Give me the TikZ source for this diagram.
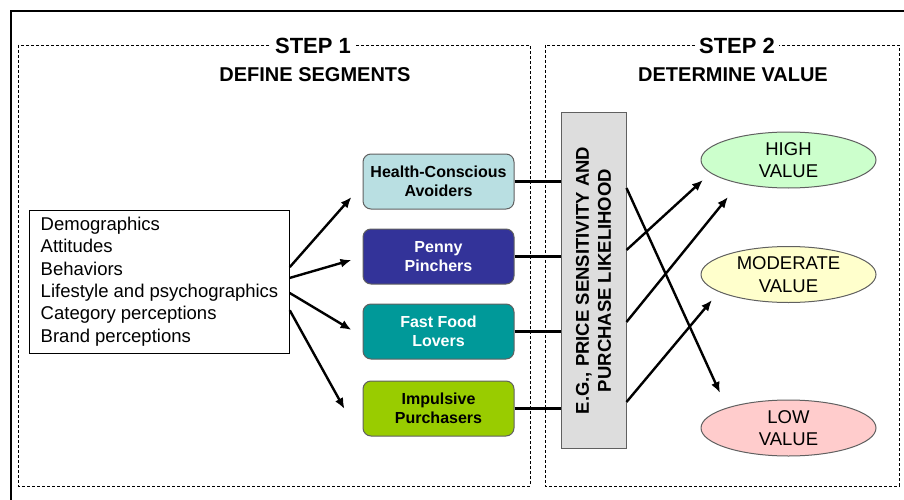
\documentclass[tikz,border=0pt]{standalone}
\usepackage{fontspec}
\setmainfont{Liberation Sans}
\usetikzlibrary{shapes.geometric,arrows.meta,calc}

\definecolor{hcafill}{HTML}{B9DFE2}
\definecolor{pennyfill}{HTML}{333399}
\definecolor{fflfill}{HTML}{009999}
\definecolor{impfill}{HTML}{99CC00}
\definecolor{highfill}{HTML}{CCFFCC}
\definecolor{modfill}{HTML}{FFFFCC}
\definecolor{lowfill}{HTML}{FFCCCC}
\definecolor{critfill}{HTML}{DDDDDD}
\definecolor{edgegray}{HTML}{606060}

\begin{document}
\begin{tikzpicture}[x=1pt, y=-1pt,
    every node/.style={font=\fontsize{18.5}{22.4}\selectfont},
    segbox/.style={draw=edgegray, line width=1pt, rounded corners=8pt, minimum width=151pt,
      minimum height=55pt, align=center, font=\bfseries\fontsize{16}{19.5}\selectfont},
    valoval/.style={ellipse, draw=edgegray, line width=1pt, minimum width=175pt,
      minimum height=56pt, inner sep=0pt, align=center},
    steptitle/.style={fill=white, inner sep=4pt, font=\bfseries\fontsize{22}{24}\selectfont},
    subtitle/.style={font=\bfseries\fontsize{20}{22}\selectfont},
    stepframe/.style={dash pattern=on 3pt off 2pt, line width=0.8pt},
    conn/.style={line width=2.4pt},
    arr/.style={line width=2.4pt, -{Latex[length=11pt,width=9pt]}},
  ]
    \useasboundingbox (0,0) rectangle (904,500);
    % outer frame
    \draw[line width=1.2pt] (11,500) -- (11,11) -- (904,11);
    % step frames
    \draw[stepframe] (18,45) rectangle (530,486);
    \draw[stepframe] (545,45) rectangle (899,486);
    \node[steptitle] (step1) at (313,46) {STEP 1};
    \node[subtitle] (define) at (315,75) {DEFINE SEGMENTS};
    \node[steptitle] (step2) at (737,46) {STEP 2};
    \node[subtitle] (determine) at (733,75) {DETERMINE VALUE};
    % segmentation variables
    \node[draw, line width=1pt, align=left, inner xsep=11pt, minimum height=143pt]
      (list) at (159.5,281.5) {Demographics\\Attitudes\\Behaviors\\Lifestyle and psychographics\\Category perceptions\\Brand perceptions};
    % segments
    \node[segbox, fill=hcafill] (hca) at (438.5,181.5) {Health-Conscious\\Avoiders};
    \node[segbox, fill=pennyfill, text=white] (penny) at (438.5,256.5) {Penny\\Pinchers};
    \node[segbox, fill=fflfill, text=white] (ffl) at (438.5,331.5) {Fast Food\\Lovers};
    \node[segbox, fill=impfill] (imp) at (438.5,408.5) {Impulsive\\Purchasers};
    \draw[arr] ($(list.north east)!0.40!(list.south east)$) -- ($(hca.west)+(-11,15.5)$);
    \draw[arr] ($(list.north east)!0.475!(list.south east)$) -- ($(penny.west)+(-11,3.5)$);
    \draw[arr] ($(list.north east)!0.58!(list.south east)$) -- ($(ffl.west)+(-11,-1.5)$);
    \draw[arr] ($(list.north east)!0.70!(list.south east)$) -- ($(imp.west)+(-18,0.5)$);
    % criteria bar
    \node[draw=edgegray, line width=1pt, fill=critfill, rotate=90, minimum width=335pt,
      minimum height=65pt, align=center, font=\bfseries\fontsize{18.5}{22}\selectfont]
      (crit) at (593.5,280.5) {E.G., PRICE SENSITIVITY AND\\PURCHASE LIKELIHOOD};
    \foreach \seg in {hca,penny,ffl,imp}
      \draw[conn] (\seg.east) -- (\seg.east -| crit.north);
    % value groups
    \node[valoval, fill=highfill] (high) at (788.5,160) {HIGH\\VALUE};
    \node[valoval, fill=modfill] (mod) at (788.5,274.5) {MODERATE\\VALUE};
    \node[valoval, fill=lowfill] (low) at (788.5,428) {LOW\\VALUE};
    \draw[arr] ($(crit.south)+(0,-92.5)$) -- ($(low.center)+(-68.5,-35)$);
    \draw[arr] ($(crit.south)+(0,-30.5)$) -- ($(high.center)+(-85.5,20)$);
    \draw[arr] ($(crit.south)+(0,41.5)$) -- ($(high.center)+(-60.5,37)$);
    \draw[arr] ($(crit.south)+(0,121.5)$) -- ($(mod.center)+(-76.5,25.5)$);
\end{tikzpicture}
\end{document}
